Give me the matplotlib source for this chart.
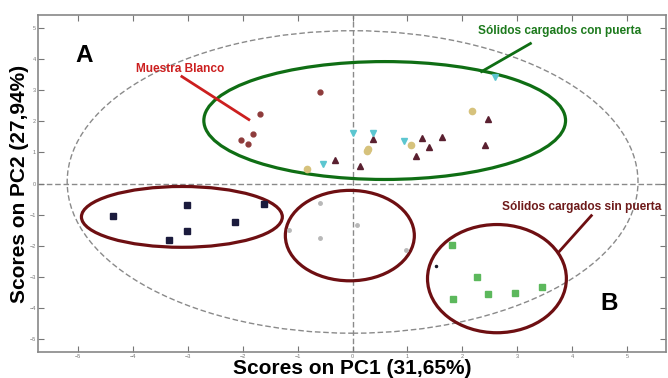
import matplotlib.pyplot as plt
from matplotlib.patches import Ellipse

# PCA scores, grouped by sample type
blanco_x = [-0.60, -1.68, -1.82, -2.04, -1.90]
blanco_y = [2.92, 2.24, 1.60, 1.38, 1.28]

tri_up_x = [-0.32, 0.13, 0.37, 1.27, 1.16, 1.40, 1.63, 2.47, 2.42]
tri_up_y = [0.76, 0.55, 1.43, 1.45, 0.88, 1.16, 1.48, 2.08, 1.22]

tri_down_x = [-0.54, 0.01, 0.38, 0.93, 2.60]
tri_down_y = [0.64, 1.61, 1.63, 1.35, 3.41]

tan_x = [-0.83, 0.26, 0.28, 1.07, 2.17]
tan_y = [0.48, 1.05, 1.12, 1.24, 2.31]

navy_x = [-4.36, -3.01, -3.02, -3.35, -2.14, -1.61]
navy_y = [-1.04, -0.68, -1.52, -1.82, -1.24, -0.65]

gray_x = [-0.59, -1.16, -0.60, 0.08, 0.97]
gray_y = [-0.62, -1.48, -1.74, -1.32, -2.12]

green_x = [1.82, 2.26, 2.47, 2.96, 3.45, 1.83]
green_y = [-1.98, -3.01, -3.55, -3.52, -3.32, -3.71]

dot_x = [1.52]
dot_y = [-2.65]

ticks_x = [-5, -4, -3, -2, -1, 0, 1, 2, 3, 4, 5]
ticks_y = [-5, -4, -3, -2, -1, 0, 1, 2, 3, 4, 5]

plt.rcParams['font.family'] = ['Liberation Sans', 'DejaVu Sans']

fig = plt.figure(figsize=(6.68, 3.78), dpi=100)
ax = fig.add_axes([0.057, 0.069, 0.94, 0.891])
ax.set_xlim(-5.73, 5.71)
ax.set_ylim(-5.4, 5.4)

# reference lines and confidence ellipse
dash = (0, (4, 2))
ax.axhline(0, color='#8a8a8a', lw=1.0, ls=dash, zorder=1)
ax.axvline(0, color='#8a8a8a', lw=1.0, ls=dash, zorder=1)
ax.add_patch(Ellipse((0, 0.05), 10.4, 9.7, fill=False, ec='#8a8a8a',
                     lw=1.0, ls=dash, zorder=1))

# group ellipses
ax.add_patch(Ellipse((0.585, 2.02), 6.59, 3.78, fill=False, ec='#0f6e14', lw=2.3, zorder=3))
ax.add_patch(Ellipse((-3.11, -1.07), 3.66, 1.95, fill=False, ec='#6e0f12', lw=2.3, zorder=3))
ax.add_patch(Ellipse((-0.05, -1.67), 2.35, 2.90, fill=False, ec='#6e0f12', lw=2.3, zorder=3))
ax.add_patch(Ellipse((2.63, -3.05), 2.53, 3.47, fill=False, ec='#6e0f12', lw=2.3, zorder=3))

# score markers
ax.plot(blanco_x, blanco_y, 'o', color='#8e3b3b', ms=3.5, zorder=4)
ax.plot(tri_up_x, tri_up_y, '^', color='#5a2030', ms=4.5, zorder=4)
ax.plot(tri_down_x, tri_down_y, 'v', color='#5cc6d0', ms=5, zorder=4)
ax.plot(tan_x, tan_y, 'o', color='#d6c27c', ms=4.5, zorder=4)
ax.plot(navy_x, navy_y, 's', color='#1b1b3d', ms=3.8, zorder=4)
ax.plot(gray_x, gray_y, 'o', color='#b8b8b8', ms=2.5, zorder=4)
ax.plot(green_x, green_y, 's', color='#5cb85c', ms=4.5, zorder=4)
ax.plot(dot_x, dot_y, 'o', color='#1a1a2a', ms=1.5, zorder=4)

# panel letters
ax.text(-4.89, 4.09, 'A', fontsize=17.5, fontweight='heavy', color='black', va='center', ha='center')
ax.text(4.68, -3.86, 'B', fontsize=17.5, fontweight='heavy', color='black', va='center', ha='center')

# callouts: label text plus leader line
ax.text(-3.95, 3.67, 'Muestra Blanco', fontsize=8.6, fontweight='bold', color='#cc1f1f',
        ha='left', va='center')
ax.plot([-3.11, -1.89], [3.43, 2.05], color='#cc1f1f', lw=2, zorder=5)

ax.text(2.28, 4.90, 'Sólidos cargados con puerta', fontsize=8.6, fontweight='bold',
        color='#1d7a1d', ha='left', va='center')
ax.plot([3.24, 2.35], [4.49, 3.59], color='#0f6e14', lw=2, zorder=5)

ax.text(2.73, -0.74, 'Sólidos cargados sin puerta', fontsize=8.6, fontweight='bold',
        color='#6e1a1a', ha='left', va='center')
ax.plot([4.35, 3.75], [-1.03, -2.21], color='#6e0f12', lw=2, zorder=5)

ax.set_xticks(ticks_x)
ax.set_yticks(ticks_y)
ax.tick_params(direction='in', length=4, width=0.8, colors='#777777', labelsize=4,
               top=True, right=True, pad=1.5)
for s in ax.spines.values():
    s.set_color('#888888')
    s.set_linewidth(1.2)

ax.set_xlabel('Scores on PC1 (31,65%)', fontsize=15, fontweight='heavy', labelpad=0)
ax.set_ylabel('Scores on PC2 (27,94%)', fontsize=15, fontweight='heavy', labelpad=0.5)

fig.savefig('out.png', dpi=100)
